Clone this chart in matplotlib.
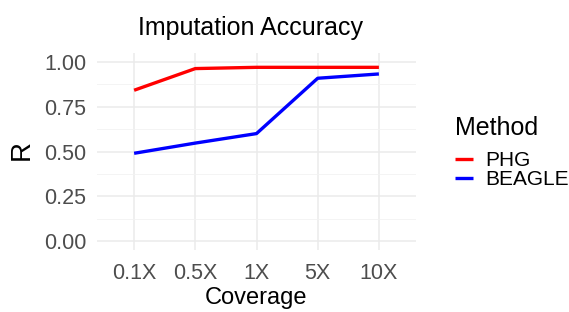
import numpy as np
import matplotlib as mpl
mpl.use('Agg')
import matplotlib.pyplot as plt
import matplotlib.ticker as tick

coverage = ["0.1X", "0.5X", "1X", "5X", "10X"]
phg    = [0.842, 0.963, 0.970, 0.970, 0.970]
beagle = [0.490, 0.547, 0.600, 0.909, 0.933]

plt.rcParams['font.family'] = ['Liberation Sans', 'DejaVu Sans']

fig = plt.figure(figsize=(5.69, 3.12), dpi=100)
W, H = 569.0, 312.0
left, right, top, bottom = 97.4, 415.6, 53.0, 250.0
ax = fig.add_axes([left / W, 1 - bottom / H, (right - left) / W, (bottom - top) / H])

x = np.arange(len(coverage))
ax.plot(x, phg, color='#ff0000', linewidth=2.4, label='PHG', solid_capstyle='butt')
ax.plot(x, beagle, color='#0000ff', linewidth=2.4, label='BEAGLE', solid_capstyle='butt')

ax.set_xlim(-0.6, len(coverage) - 1 + 0.6)
ax.set_ylim(-0.05, 1.05)
ax.set_xticks(x)
ax.set_xticklabels(coverage)
ax.yaxis.set_major_locator(tick.FixedLocator([0, 0.25, 0.5, 0.75, 1.0]))
ax.yaxis.set_major_formatter(tick.FormatStrFormatter('%.2f'))
ax.yaxis.set_minor_locator(tick.FixedLocator([0.125, 0.375, 0.625, 0.875]))

ax.grid(True, which='major', color='#ebebeb', linewidth=1.1)
ax.grid(True, which='minor', axis='y', color='#f2f2f2', linewidth=0.6)
ax.set_axisbelow(True)
for s in ax.spines.values():
    s.set_visible(False)
ax.tick_params(which='both', length=0, colors='#4d4d4d', labelsize=15.5)
ax.tick_params(axis='x', pad=9.5)
ax.tick_params(axis='y', pad=8)

fig.text(251 / W, 1 - 28 / H, "Imputation Accuracy", fontsize=18, ha='center', va='center')
fig.text(256.5 / W, 1 - 298 / H, "Coverage", fontsize=17, ha='center', va='center')
fig.text(22 / W, 1 - 150 / H, "R", fontsize=20, ha='center', va='center', rotation=90)

leg = ax.legend(loc='upper left', bbox_to_anchor=(455 / W, 1 - 116 / H), bbox_transform=fig.transFigure,
                frameon=False, title="Method", fontsize=15, title_fontsize=18,
                handlelength=0.85, handletextpad=0.6, labelspacing=0.0,
                borderaxespad=0, borderpad=0)
leg._legend_box.align = 'left'
leg._legend_box.sep = 8

plt.savefig("out.png", dpi=100)
